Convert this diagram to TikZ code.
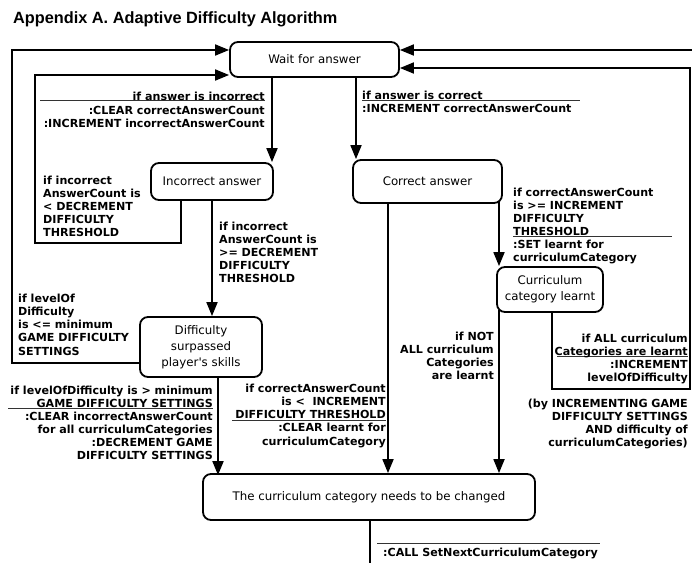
\documentclass[tikz,border=0pt]{standalone}
\usepackage{fontspec}
\usetikzlibrary{arrows.meta}
\newfontfamily\lblfont{DejaVu Sans}
\newfontfamily\boxfontfam{DejaVu Sans}
\newfontfamily\titlefont{Liberation Sans}
\begin{document}
\begin{tikzpicture}[x=1pt,y=-1pt]
\tikzset{
  box/.style={draw, line width=1.8pt, rounded corners=8pt, inner sep=0pt, align=center,
    font=\boxfontfam\fontsize{11.8}{16}\selectfont},
  conn/.style={line width=1.8pt},
  arr/.style={conn, -{Triangle[length=14pt,width=11pt]}},
  lbl/.style={inner sep=0pt, font=\lblfont\bfseries\fontsize{11.1}{13.1}\selectfont},
  sep/.style={line width=1pt, black!80},
}
\useasboundingbox (0,0) rectangle (692,563);

% title
\node[anchor=base west, inner sep=0pt, font=\titlefont\bfseries\fontsize{16.3}{19}\selectfont] (title) at (13,23) {Appendix A. Adaptive Difficulty Algorithm};

% boxes
\node[box, minimum width=169pt, minimum height=35pt] (wait) at (314.5,59.5) {Wait for answer};
\node[box, minimum width=122pt, minimum height=37pt] (inc) at (212,181.5) {Incorrect answer};
\node[box, minimum width=149pt, minimum height=43pt] (cor) at (427.5,181.5) {Correct answer};
\node[box, minimum width=106pt, minimum height=45pt] (cur) at (550,289.5) {Curriculum\\category learnt};
\node[box, minimum width=122pt, minimum height=60pt] (dif) at (201,347) {Difficulty\\surpassed\\player's skills};
\node[box, minimum width=332pt, minimum height=46pt] (fin) at (369,497) {The curriculum category needs to be changed};

% free ends
\coordinate (rightedge) at (692,50);
\coordinate (bottomedge) at (370,563);

% connectors
\draw[arr] (272,0 |- wait.south) -- (272,0 |- inc.north);
\draw[arr] (356,0 |- wait.south) -- (356,0 |- cor.north);
\draw[arr] (212,0 |- inc.south) -- (212,0 |- dif.north);
\draw[arr] (181,0 |- inc.south) -- (181,243) -- (35,243) -- (35,75) -- (wait.west |- 0,75);
\draw[arr] (dif.west |- 0,363) -- (12,363) -- (12,50) -- (wait.west |- 0,50);
\draw[arr] (388,0 |- cor.south) -- (388,0 |- fin.north);
\draw[arr, shorten <=-3pt] (499,0 |- cor.south) -- (499,0 |- cur.north);
\draw[arr, shorten <=-3pt] (499,0 |- cur.south) -- (499,0 |- fin.north);
\draw[arr, shorten >=-2pt] (218,0 |- dif.south) -- (218,0 |- fin.north);
\draw[arr] (552,0 |- cur.south) -- (552,389) -- (690,389) -- (690,68) -- (wait.east |- 0,68);
\draw[arr] (rightedge) -- (wait.east |- 0,50);
\draw[conn] (370,0 |- fin.south) -- (bottomedge);

% separators
\draw[sep] (40,100) -- (265,100);
\draw[sep] (362,100) -- (580,100);
\draw[sep] (8,408) -- (213,408);
\draw[sep] (232,420) -- (386,420);
\draw[sep] (513,236) -- (672,236);
\draw[sep] (557,356) -- (688,356);
\draw[sep] (377,543) -- (600,543);

% labels
\node[lbl, anchor=north east, align=right] (la) at (265,92.3) {if answer is incorrect\\:CLEAR correctAnswerCount\\:INCREMENT incorrectAnswerCount};
\node[lbl, anchor=north west, align=left] (lb) at (362,90.7) {if answer is correct\\:INCREMENT correctAnswerCount};
\node[lbl, anchor=north west, align=left] (lc) at (43,175.7) {if incorrect\\AnswerCount is\\< DECREMENT\\DIFFICULTY\\THRESHOLD};
\node[lbl, anchor=north west, align=left] (ld) at (219,221.7) {if incorrect\\AnswerCount is\\>= DECREMENT\\DIFFICULTY\\THRESHOLD};
\node[lbl, anchor=north west, align=left] (le) at (18,294) {if levelOf\\Difficulty\\is <= minimum\\GAME DIFFICULTY\\SETTINGS};
\node[lbl, anchor=north east, align=right] (lf) at (213,385.7) {if levelOfDifficulty is > minimum\\GAME DIFFICULTY SETTINGS\\:CLEAR incorrectAnswerCount\\for all curriculumCategories\\:DECREMENT GAME\\DIFFICULTY SETTINGS};
\node[lbl, anchor=north east, align=right] (lg) at (386,384) {if correctAnswerCount\\is <~ INCREMENT\\DIFFICULTY THRESHOLD\\:CLEAR learnt for\\curriculumCategory};
\node[lbl, anchor=north west, align=left] (lh) at (513,187.4) {if correctAnswerCount\\is >= INCREMENT\\DIFFICULTY\\THRESHOLD\\:SET learnt for\\curriculumCategory};
\node[lbl, anchor=north east, align=right] (li) at (494,331.7) {if NOT\\ALL curriculum\\Categories\\are learnt};
\node[lbl, anchor=north east, align=right] (lj) at (688,334) {if ALL curriculum\\Categories are learnt\\:INCREMENT\\levelOfDifficulty};
\node[lbl, anchor=north east, align=right] (lk) at (688,398.4) {(by INCREMENTING GAME\\DIFFICULTY SETTINGS\\AND difficulty of\\curriculumCategories)};
\node[lbl, anchor=north west, align=left] (ll) at (383,547.7) {:CALL SetNextCurriculumCategory};
\end{tikzpicture}
\end{document}
